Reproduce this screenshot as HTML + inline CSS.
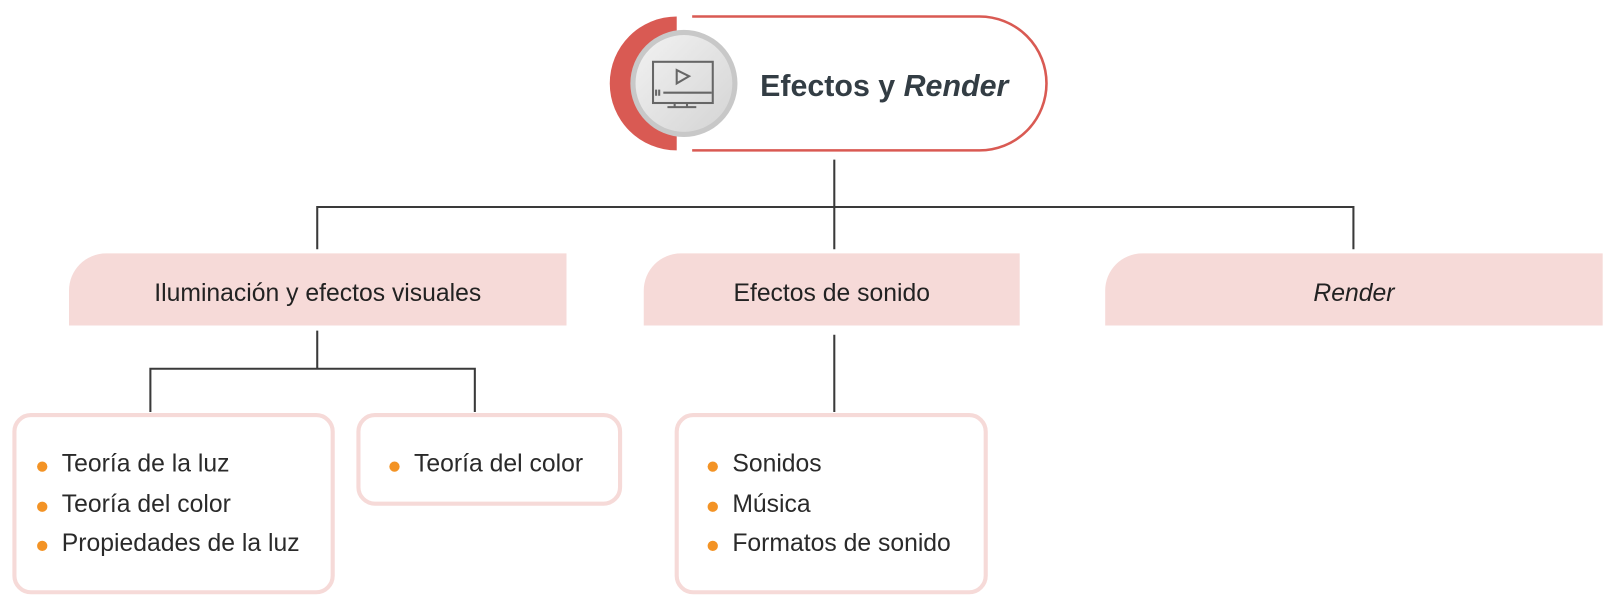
<!DOCTYPE html>
<html><head><meta charset="utf-8"><style>
body{margin:0;width:1615px;height:611px;background:#fff;font-family:"Liberation Sans",sans-serif;overflow:hidden}
#w{position:absolute;left:0;top:0;width:1568px;height:594px;transform:scale(1.03);transform-origin:0 0}
.h{position:absolute;background:#f6dad8;border-top-left-radius:36px;display:flex;align-items:center;justify-content:center;font-size:24px;color:#222;box-sizing:border-box;padding-top:7px}
.c{position:absolute;border:4px solid #f6dad8;border-radius:18px;box-sizing:border-box;background:#fff}
.li{position:absolute;font-size:24px;color:#2a2a2a;white-space:nowrap}
.li:before{content:"";position:absolute;left:-24px;top:11px;width:10px;height:10px;border-radius:50%;background:#f39325}
</style></head><body><div id="w">
<svg width="1568" height="594" style="position:absolute;left:0;top:0">
<g stroke="#3a3a3a" stroke-width="2" fill="none">
<path d="M810 155V242M308 242V201H1314V242"/>
<path d="M308 321V358M146 400V358H461V400"/>
<path d="M810 325V400"/>
</g>
<path d="M672 16H951A65 65 0 0 1 951 146H672" stroke="#d95a53" stroke-width="2.5" fill="none"/>
<path d="M657 16A65 65 0 0 0 657 146Z" fill="#d95a53"/>
<defs><linearGradient id="g" x1="0" y1="0" x2="1" y2="1"><stop offset="0" stop-color="#f2f2f2"/><stop offset="1" stop-color="#d4d4d4"/></linearGradient></defs>
<circle cx="664" cy="81" r="52" fill="#c8c8c8"/>
<circle cx="664" cy="81" r="47" fill="url(#g)"/>
<g stroke="#666" stroke-width="2" fill="none">
<rect x="634" y="60" width="58" height="40"/>
<path d="M657 68L669 74L657 81Z"/>
<path d="M644 90H691M637 87V93M640 87V93M655 100V104M667 100V104M648 104H676"/>
</g>
<text x="738" y="93" font-family="Liberation Sans,sans-serif" font-size="29.5" font-weight="bold" fill="#333d44">Efectos y <tspan font-style="italic">Render</tspan></text>
</svg>
<div class="h" style="left:67px;top:246px;width:483px;height:70px">Iluminación y efectos visuales</div>
<div class="h" style="left:625px;top:246px;width:365px;height:70px">Efectos de sonido</div>
<div class="h" style="left:1073px;top:246px;width:483px;height:70px;font-style:italic">Render</div>
<div class="c" style="left:12px;top:401px;width:313px;height:176px"></div>
<div class="c" style="left:346px;top:401px;width:258px;height:90px"></div>
<div class="c" style="left:655px;top:401px;width:304px;height:176px"></div>
<div class="li" style="left:60px;top:437px">Teoría de la luz</div>
<div class="li" style="left:60px;top:476px">Teoría del color</div>
<div class="li" style="left:60px;top:514px">Propiedades de la luz</div>
<div class="li" style="left:402px;top:437px">Teoría del color</div>
<div class="li" style="left:711px;top:437px">Sonidos</div>
<div class="li" style="left:711px;top:476px">Música</div>
<div class="li" style="left:711px;top:514px">Formatos de sonido</div>
</div></body></html>
